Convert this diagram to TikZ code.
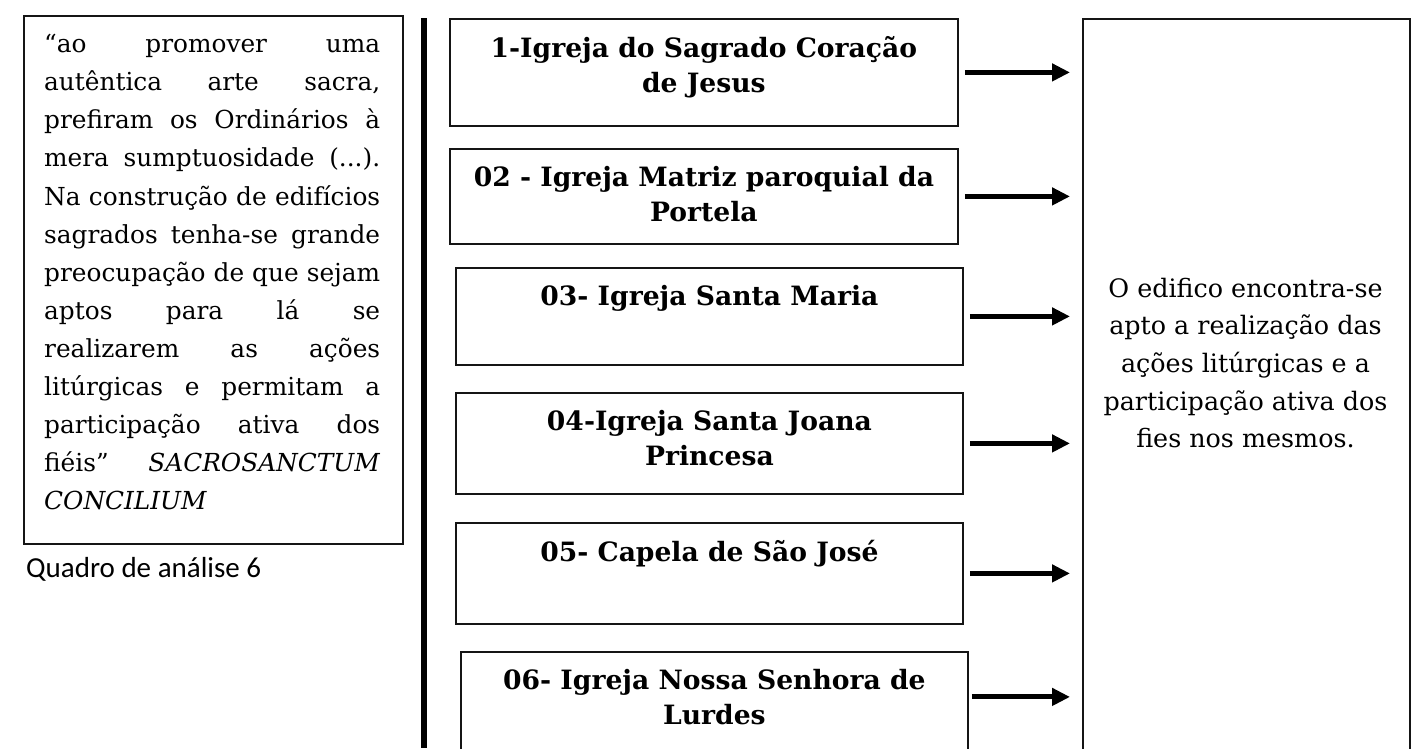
\documentclass[tikz,border=0pt]{standalone}
\usepackage{fontspec}
\setmainfont{DejaVu Serif}
\newfontfamily\captionfont{Carlito}
\usetikzlibrary{arrows.meta,positioning}
\definecolor{frameline}{HTML}{151515}

\newcommand{\jline}[1]{\makebox[336pt][s]{\spaceskip=.32em plus 3em minus .1em\xspaceskip=\spaceskip #1}}

\begin{document}
\begin{tikzpicture}[x=1pt, y=-1pt,
  framebox/.style={draw=frameline, line width=1.8pt, anchor=north west, inner sep=0pt},
  churchname/.style={anchor=north, align=center, inner sep=0pt,
    font=\fontsize{26.6pt}{35pt}\selectfont\bfseries},
  linkarrow/.style={-{Triangle[length=18pt, width=17pt]}, line width=5pt}]
  \useasboundingbox (0,0) rectangle (1427,748);
  \clip (0,0) rectangle (1427,748);

  % left: quotation and caption
  \node[framebox, minimum width=379pt, minimum height=528pt] (quadro) at (23,15) {};
  \node[anchor=north west, inner sep=0pt, text width=336pt,
        font=\fontsize{24.8pt}{38.1pt}\selectfont] (citacao) at (44,34) {%
    \jline{“ao promover uma}\\
    \jline{autêntica arte sacra,}\\
    \jline{prefiram os Ordinários à}\\
    \jline{mera sumptuosidade (...).}\\
    \jline{Na construção de edifícios}\\
    \jline{sagrados tenha-se grande}\\
    \jline{preocupação de que sejam}\\
    \jline{aptos para lá se}\\
    \jline{realizarem as ações}\\
    \jline{litúrgicas e permitam a}\\
    \jline{participação ativa dos}\\
    \jline{fiéis” \textit{SACROSANCTUM}}\\
    \textit{CONCILIUM}};
  \node[anchor=west, inner sep=0pt, font=\captionfont\fontsize{29pt}{34pt}\selectfont]
    (legenda) at (26,569) {Quadro de análise 6};

  % divider
  \coordinate (divtop) at (424,18);
  \coordinate (divbot) at (424,748);
  \draw[line width=5.5pt] (divtop) -- (divbot);

  % churches
  \node[framebox, minimum width=508pt, minimum height=107pt] (igreja1) at (449,18) {};
  \node[framebox, minimum width=508pt, minimum height=95pt]  (igreja2) at (449,148) {};
  \node[framebox, minimum width=507pt, minimum height=97pt]  (igreja3) at (455,267) {};
  \node[framebox, minimum width=507pt, minimum height=101pt] (igreja4) at (455,392) {};
  \node[framebox, minimum width=507pt, minimum height=101pt] (igreja5) at (455,522) {};
  \node[framebox, minimum width=507pt, minimum height=101pt] (igreja6) at (460,651) {};

  \node[churchname] (nome1) at ([yshift=-18pt]igreja1.north) {1-Igreja do Sagrado Coração\\de Jesus};
  \node[churchname] (nome2) at ([yshift=-18pt]igreja2.north) {02 - Igreja Matriz paroquial da\\Portela};
  \node[churchname] (nome3) at ([yshift=-18pt]igreja3.north) {03- Igreja Santa Maria};
  \node[churchname] (nome4) at ([yshift=-18pt]igreja4.north) {04-Igreja Santa Joana\\Princesa};
  \node[churchname] (nome5) at ([yshift=-18pt]igreja5.north) {05- Capela de São José};
  \node[churchname] (nome6) at ([yshift=-18pt]igreja6.north) {06- Igreja Nossa Senhora de\\Lurdes};

  % right: common verdict
  \node[framebox, minimum width=327pt, minimum height=760pt] (parecer) at (1082,18) {};
  \node[align=center, inner sep=0pt, font=\fontsize{25.4pt}{37.6pt}\selectfont]
    (parecertxt) at (1245.5,363) {O edifico encontra-se\\apto a realização das\\ações litúrgicas e a\\participação ativa dos\\fies nos mesmos.};

  % arrows
  \foreach \k in {1,...,5}
    \draw[linkarrow] ([xshift=6pt]igreja\k.east) -- ([xshift=-12pt]parecer.west |- igreja\k.east);
  \draw[linkarrow] ([xshift=3pt, yshift=5.5pt]igreja6.east) -- ([xshift=-12pt, yshift=5.5pt]parecer.west |- igreja6.east);
\end{tikzpicture}
\end{document}
